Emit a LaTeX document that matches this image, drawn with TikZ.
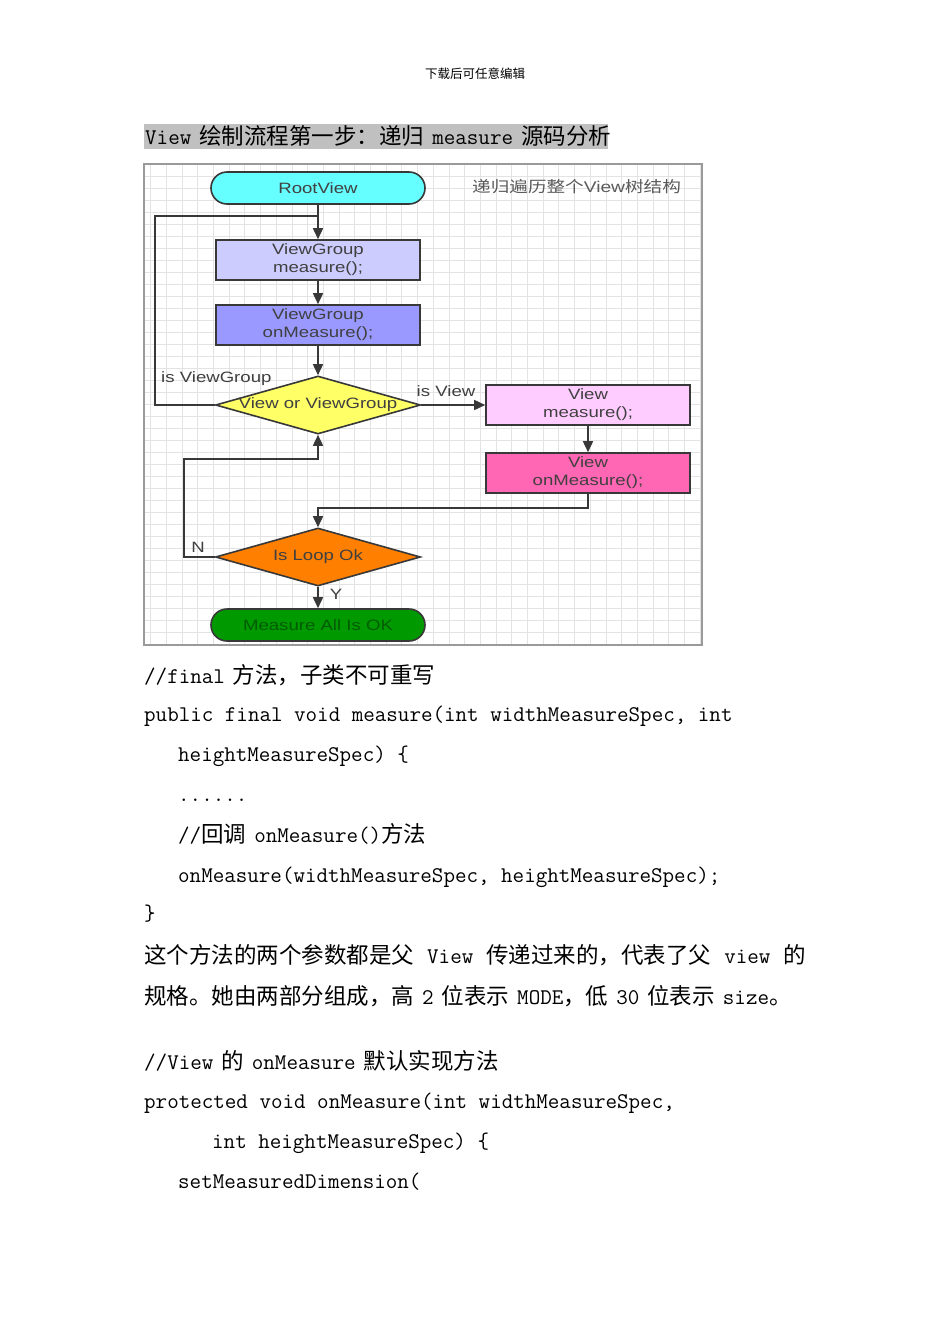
\documentclass[tikz,border=0pt]{standalone}
\usepackage{fontspec}
\usepackage{xcolor}
\usepackage{tikz}
\usetikzlibrary{positioning,arrows.meta,shapes.geometric}
\newfontfamily\cjk{Noto Sans CJK SC}
\newfontfamily\chartfont[FakeStretch=1.24]{Liberation Sans}
\newfontfamily\chartcjk[FakeStretch=1.2]{Noto Sans CJK SC}
\newcommand{\zh}[1]{{\cjk\fontsize{22.5}{26}\selectfont #1}}
\newcommand{\gap}{\hspace{8pt}}
\newcommand{\wgap}{\hspace{13pt}}
\definecolor{rootfill}{HTML}{66FFFF}
\definecolor{vgmfill}{HTML}{CCCCFF}
\definecolor{vgofill}{HTML}{9999FF}
\definecolor{decfill}{HTML}{FFFF66}
\definecolor{vmfill}{HTML}{FFCCFF}
\definecolor{vofill}{HTML}{FF66B3}
\definecolor{loopfill}{HTML}{FF8000}
\definecolor{okfill}{HTML}{009900}
\definecolor{oktext}{HTML}{005C00}
\definecolor{linegray}{HTML}{383838}
\definecolor{txtgray}{HTML}{404040}
\definecolor{notegray}{HTML}{5A5A5A}
\definecolor{gridgray}{HTML}{E3E3E3}
\definecolor{framegray}{HTML}{9A9A9A}
\definecolor{hlgray}{HTML}{C0C0C0}
\tikzset{
  gridln/.style={draw=gridgray, line width=1pt},
  frm/.style={draw=framegray, line width=1.6pt},
  stepbox/.style={rectangle, draw=linegray, line width=1.6pt, minimum width=204pt, minimum height=40pt, inner sep=0pt, align=center, text=txtgray, font=\chartfont\fontsize{15}{18}\selectfont},
  term/.style={rectangle, rounded corners=16pt, draw=linegray, line width=1.6pt, minimum width=214pt, minimum height=32pt, inner sep=0pt, font=\chartfont\fontsize{15}{18}\selectfont},
  dec/.style={diamond, draw=linegray, line width=1.6pt, minimum width=205pt, minimum height=58pt, inner sep=0pt},
  declbl/.style={font=\chartfont\fontsize{15}{18}\selectfont, text=txtgray, inner sep=0pt},
  lbl/.style={font=\chartfont\fontsize{15}{18}\selectfont, text=txtgray, inner sep=0pt},
  conn/.style={draw=linegray, line width=1.6pt},
  arr/.style={conn, -{Triangle[length=11pt,width=10pt]}},
  codeln/.style={anchor=base west, inner sep=0pt, font=\ttfamily\fontsize{22.4}{25}\selectfont}
}

\begin{document}
\begin{tikzpicture}[x=1pt,y=-1pt]
  \useasboundingbox[fill=white] (0,0) rectangle (950,1344);

  % Page header
  \node[font=\cjk\fontsize{12.5}{14}\selectfont, inner sep=0pt] (hdr) at (475,74) {下载后可任意编辑};

  % Highlighted title
  \fill[hlgray] (144,124) rectangle (608,149);
  \node[codeln] (title) at (145,144) {View\gap\zh{绘制流程第一步：递归}\gap measure\gap\zh{源码分析}};

  % Chart background: grid and frame
  \foreach \gx in {0,...,35}
    \draw[gridln] ({150.7+\gx*15.7},165) -- ++(0,479);
  \foreach \gy in {0,...,38}
    \draw[gridln] (145,{176.7+\gy*12}) -- ++(556,0);
  \draw[frm] (144,164) rectangle (702,645);

  % Chart nodes
  \node[term, fill=rootfill, text=txtgray] (root) at (318,188) {RootView};
  \node[font=\chartcjk\fontsize{15.5}{18}\selectfont, text=notegray, anchor=west, inner sep=0pt] (note) at (472,187) {递归遍历整个{\chartfont View}树结构};
  \node[stepbox, fill=vgmfill] (vgm) at (318,260) {ViewGroup\\measure();};
  \node[stepbox, fill=vgofill] (vgo) at (318,325) {ViewGroup\\onMeasure();};
  \node[dec, fill=decfill, label={[declbl]center:View or ViewGroup}] (dv) at (318,405) {};
  \node[stepbox, fill=vmfill] (vm) at (588,405) {View\\measure();};
  \node[stepbox, fill=vofill] (vo) at (588,473) {View\\onMeasure();};
  \node[dec, fill=loopfill, label={[declbl]center:Is Loop Ok}] (dl) at (318,557) {};
  \node[term, fill=okfill, text=oktext] (ok) at (318,625) {Measure All Is OK};

  % Loop corners
  \coordinate (lpa) at (155,216);
  \coordinate (lpb) at (318,216);
  \coordinate (lnc) at (184,459);

  % Connectors
  \draw[arr] (root) -- (vgm);
  \draw[conn] (dv.west) -| (lpa) -- (lpb);
  \draw[arr] (vgm) -- (vgo);
  \draw[arr] (vgo) -- (dv);
  \draw[arr] (dv) -- (vm);
  \draw[arr] (vm) -- (vo);
  \draw[arr] (vo.south) -- ++(0,14) -| (dl.north);
  \draw[arr] (dl.west) -| (lnc) -| (dv.south);
  \draw[arr] (dl) -- (ok);

  % Connector labels
  \node[lbl, anchor=west] (isvg) at (161,379) {is ViewGroup};
  \node[lbl] (isv) at (446,391) {is View};
  \node[lbl] (no) at (198,547) {N};
  \node[lbl] (yes) at (336,594) {Y};

  % Code and text below the chart
  \node[codeln] (c1) at (144,683) {//final\gap\zh{方法，子类不可重写}};
  \node[codeln] (c2) at (144,721) {public final void measure(int widthMeasureSpec, int};
  \node[codeln] (c3) at (178,761) {heightMeasureSpec) \{};
  \node[codeln] (c4) at (178,801) {......};
  \node[codeln] (c5) at (178,842) {//\zh{回调}\gap onMeasure()\zh{方法}};
  \node[codeln] (c6) at (178,882) {onMeasure(widthMeasureSpec, heightMeasureSpec);};
  \node[codeln] (c7) at (144,920) {\}};
  \node[codeln] (t1) at (144,963) {\zh{这个方法的两个参数都是父}\wgap View\wgap\zh{传递过来的，代表了父}\wgap view\wgap\zh{的}};
  \node[codeln] (t2) at (144,1004) {\zh{规格。她由两部分组成，高}\gap 2\gap\zh{位表示}\gap MODE\zh{，低}\gap 30\gap\zh{位表示}\gap size\zh{。}};
  \node[codeln] (c8) at (144,1069) {//View\gap\zh{的}\gap onMeasure\gap\zh{默认实现方法}};
  \node[codeln] (c9) at (144,1108) {protected void onMeasure(int widthMeasureSpec,};
  \node[codeln] (c10) at (212,1148) {int heightMeasureSpec) \{};
  \node[codeln] (c11) at (178,1188) {setMeasuredDimension(};
\end{tikzpicture}
\end{document}
